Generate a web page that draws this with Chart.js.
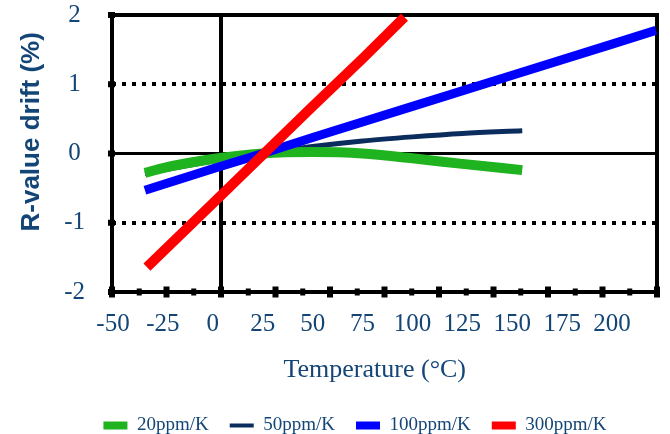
<!DOCTYPE html>
<html><head><meta charset="utf-8">
<script src="https://cdn.jsdelivr.net/npm/chart.js@4/dist/chart.umd.min.js"></script>
<style>html,body{margin:0;padding:0;background:#fff;}</style>
</head><body>
<canvas id="c" width="670" height="434"></canvas>
<script>
// ---- data ----
const xTickLabels = [-50, -25, 0, 25, 50, 75, 100, 125, 150, 175, 200];
const yTickLabels = [-2, -1, 0, 1, 2];
const seriesNames = ['20ppm/K', '50ppm/K', '100ppm/K', '300ppm/K'];

const temps20 = [-34, -25, 0, 25, 50, 75, 100, 125, 155];
const drift20 = [-0.28, -0.21, -0.08, 0.0, 0.02, 0.0, -0.07, -0.15, -0.24];

const temps50 = [-34, -25, 0, 25, 50, 75, 100, 125, 155];
const drift50 = [-0.29, -0.24, -0.11, 0.0, 0.10, 0.18, 0.24, 0.29, 0.33];

const temps100 = [-34, 0, 25, 50, 100, 150, 200, 222];
const drift100 = [-0.53, -0.22, 0.0, 0.23, 0.68, 1.13, 1.58, 1.78];

const temps300 = [-33, 0, 25, 50, 75, 96];
const drift300 = [-1.64, -0.72, -0.02, 0.68, 1.37, 1.97];

// ---- styling ----
const textColor = '#134576';
const serif = "'Liberation Serif', 'Times New Roman', serif";
const pts = (xs, ys) => xs.map((x, i) => ({ x: x, y: ys[i] }));

const framePlugin = {
  id: 'frame',
  beforeDatasetsDraw(chart) {
    const { ctx, chartArea: a, scales } = chart;
    ctx.save();
    ctx.strokeStyle = '#000';
    ctx.fillStyle = '#000';
    ctx.lineWidth = 4;
    ctx.strokeRect(a.left, a.top, a.right - a.left, a.bottom - a.top);
    const xs = scales.xFrame;
    xs.ticks.forEach(t => {
      const px = xs.getPixelForValue(t.value);
      const major = Math.abs(t.value % 25) < 1e-6;
      const w = major ? 6 : 5, h = major ? 11 : 7;
      ctx.fillRect(px - w / 2, a.bottom - h / 2, w, h);
    });
    const ys = scales.y;
    ys.ticks.forEach(t => {
      const py = ys.getPixelForValue(t.value);
      ctx.fillRect(a.left - 4, py - 3, 7, 6);
    });
    ctx.restore();
  }
};

new Chart(document.getElementById('c'), {
  type: 'line',
  data: {
    datasets: [
      { label: seriesNames[0], data: pts(temps20, drift20), borderColor: '#20b320', borderWidth: 10, order: 3, cubicInterpolationMode: 'monotone' },
      { label: seriesNames[1], data: pts(temps50, drift50), borderColor: '#0b2d5e', borderWidth: 5, order: 4, cubicInterpolationMode: 'monotone' },
      { label: seriesNames[2], data: pts(temps100, drift100), borderColor: '#0000ff', borderWidth: 9, order: 2 },
      { label: seriesNames[3], data: pts(temps300, drift300), borderColor: '#ff0000', borderWidth: 10, order: 1, clip: false }
    ]
  },
  options: {
    responsive: false,
    animation: false,
    events: [],
    elements: { point: { radius: 0 }, line: { borderCapStyle: 'butt', fill: false } },
    layout: { padding: { left: 53, right: 13, top: 15, bottom: -11 } },
    plugins: {
      tooltip: { enabled: false },
      legend: {
        position: 'bottom',
        labels: {
          usePointStyle: true,
          pointStyle: 'line',
          pointStyleWidth: 24,
          padding: 21,
          color: textColor,
          font: { family: serif, size: 19 },
          sort: (a, b) => a.datasetIndex - b.datasetIndex,
          generateLabels: chart => Chart.defaults.plugins.legend.labels.generateLabels(chart).map(it => {
            it.lineWidth = it.datasetIndex === 1 ? 4 : 8;
            return it;
          })
        }
      }
    },
    scales: {
      x: {
        type: 'linear', position: 'bottom', weight: 1,
        min: -50.5, max: 222.5,
        afterBuildTicks: s => { s.ticks = xTickLabels.map(v => ({ value: v })); },
        afterFit: s => { s.height = 103; },
        grid: { display: false, drawTicks: false },
        border: { display: false },
        ticks: { color: textColor, font: { family: serif, size: 25 }, padding: 17, maxRotation: 0, autoSkip: false },
        title: { display: true, text: 'Temperature (°C)   ', color: textColor, font: { family: serif, size: 26 }, padding: { top: 0, bottom: 9 } }
      },
      xFrame: {
        type: 'linear', position: 'bottom', weight: 0,
        min: -50, max: 200,
        ticks: { display: false, stepSize: 12.5 },
        grid: { drawTicks: false, color: c => (c.tick && c.tick.value === 0) ? '#000' : 'rgba(0,0,0,0)', lineWidth: 4 },
        border: { display: false }
      },
      y: {
        type: 'linear', position: 'left',
        min: -2, max: 2,
        afterBuildTicks: s => { s.ticks = yTickLabels.map(v => ({ value: v })); },
        afterFit: s => { s.width = 59; },
        ticks: { color: textColor, font: { family: serif, size: 25 }, padding: 0, crossAlign: 'center' },
        grid: {
          drawTicks: true,
          tickLength: 27,
          tickColor: 'rgba(0,0,0,0)',
          color: c => (c.tick && Math.abs(c.tick.value) <= 1) ? '#000' : 'rgba(0,0,0,0)',
          lineWidth: c => (c.tick && c.tick.value === 0) ? 3 : 4
        },
        border: { display: false, dash: c => (c.tick && c.tick.value !== 0) ? [4, 6] : [] },
        title: {
          display: true, text: '      R-value drift (%)', color: textColor,
          font: { family: "'Liberation Sans', Arial, sans-serif", size: 26, weight: 'bold' },
          padding: { top: -37, bottom: 0 }
        }
      }
    }
  },
  plugins: [framePlugin]
});
</script>
</body></html>
